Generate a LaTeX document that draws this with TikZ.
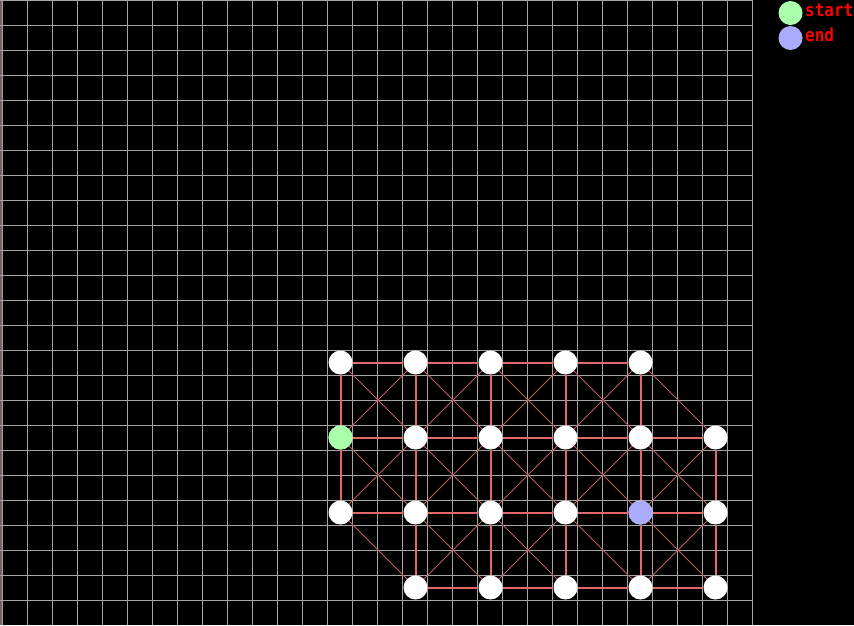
\documentclass[tikz,border=0pt]{standalone}
\usepackage{fontspec}
\newfontfamily\legendfont{DejaVu Sans Mono}
\definecolor{gridgray}{RGB}{165,165,165}
\definecolor{edgered}{RGB}{225,105,105}
\definecolor{diagred}{RGB}{185,95,95}
\definecolor{startgreen}{RGB}{170,255,170}
\definecolor{endblue}{RGB}{170,170,255}
\definecolor{edgestrip}{RGB}{115,100,95}
\begin{document}
\begin{tikzpicture}[x=1pt,y=-1pt,
  gridline/.style={draw=gridgray,line width=1pt},
  edge/.style={draw=edgered,line width=2pt},
  diagedge/.style={draw=diagred,line width=1pt},
  cell/.style={circle,inner sep=0pt,minimum size=24pt,fill=white},
  legdot/.style={circle,inner sep=0pt,minimum size=24pt},
  legtext/.style={text=red,font=\legendfont\bfseries\fontsize{16}{16}\selectfont,anchor=base west,inner sep=0pt}]
\fill[black] (0,0) rectangle (854,625);
\useasboundingbox (0,0) rectangle (854,625);
% grid
\draw[edgestrip,line width=2pt] (1,0) -- (1,625);
\foreach \k in {0,...,30} \draw[gridline] (2.5+25*\k,0) -- (2.5+25*\k,625);
\foreach \k in {0,...,24} \draw[gridline] (0,0.5+25*\k) -- (752.5,0.5+25*\k);
% nodes
\foreach \i/\j in {0/0,1/0,2/0,3/0,4/0,
                   0/1,1/1,2/1,3/1,4/1,5/1,
                   0/2,1/2,2/2,3/2,4/2,5/2,
                   1/3,2/3,3/3,4/3,5/3}
  \node[cell] (n\i\j) at (340.5+75*\i,362.5+75*\j) {};
\node[cell,fill=startgreen] at (n01) {};
\node[cell,fill=endblue] at (n42) {};
% horizontal edges
\foreach \a/\b in {00/10,10/20,20/30,30/40,
                   01/11,11/21,21/31,31/41,41/51,
                   02/12,12/22,22/32,32/42,42/52,
                   13/23,23/33,33/43,43/53}
  \draw[edge] (n\a) -- (n\b);
% vertical edges
\foreach \a/\b in {00/01,10/11,20/21,30/31,40/41,
                   01/02,11/12,21/22,31/32,41/42,51/52,
                   12/13,22/23,32/33,42/43,52/53}
  \draw[edge] (n\a) -- (n\b);
% diagonal edges
\foreach \a/\b in {00/11,10/01,10/21,20/11,20/31,30/21,30/41,40/31,40/51,
                   01/12,11/02,11/22,21/12,21/32,31/22,31/42,41/32,41/52,51/42,
                   02/13,12/23,22/13,22/33,32/23,32/43,42/53,52/43}
  \draw[diagedge] (n\a) -- (n\b);
% legend
\node[legdot,fill=startgreen] (startdot) at (790.5,13) {};
\node[legdot,fill=endblue] (enddot) at (790.5,38) {};
\node[legtext] (startlbl) at (805,16.7) {\scalebox{1}[1.12]{start}};
\node[legtext] (endlbl) at (805,41.7) {\scalebox{1}[1.12]{end}};
\end{tikzpicture}
\end{document}
